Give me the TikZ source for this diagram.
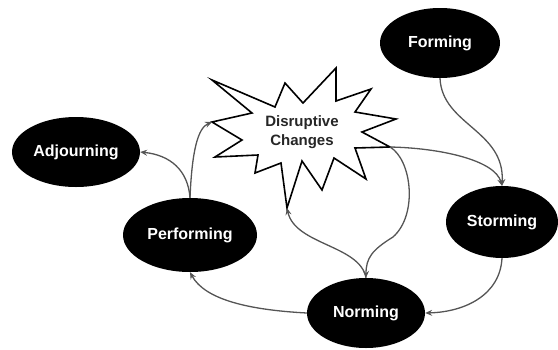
\documentclass[tikz,border=0pt]{standalone}
\usepackage{fontspec}
\setmainfont{Liberation Sans}
\usetikzlibrary{shapes.geometric,arrows.meta}
\definecolor{linegray}{HTML}{555555}
\begin{document}
\begin{tikzpicture}[x=1pt,y=-1pt,
  stage/.style={ellipse, fill=black, inner sep=0pt, text=white,
    font=\bfseries\fontsize{16}{19}\selectfont},
  conn/.style={draw=linegray, line width=1.3pt,
    -{Stealth[length=7pt,width=6pt,inset=2.5pt]}},
  burst/.style={draw=black, fill=white, line width=1.6pt, line join=miter}
]
\useasboundingbox (0,0) rectangle (558,349);
% stages
\node[stage, minimum width=120pt, minimum height=70pt] (forming) at (440,43) {Forming};
\node[stage, minimum width=112pt, minimum height=72pt] (storming) at (502,222) {Storming};
\node[stage, minimum width=118pt, minimum height=70pt] (norming) at (366,313) {Norming};
\node[stage, minimum width=134pt, minimum height=74pt] (performing) at (190,235) {Performing};
\node[stage, minimum width=128pt, minimum height=70pt] (adjourning) at (76,152) {Adjourning};
% burst
\draw[burst] (212,80) -- (275,107) -- (285,83) -- (303,103) -- (336,68) -- (336,101)
  -- (371,89) -- (355,112) -- (396,119) -- (362,132) -- (390,147) -- (355,148)
  -- (366,179) -- (334,158) -- (322,190) -- (302,161) -- (287,208) -- (281,163)
  -- (255,173) -- (258,155) -- (215,157) -- (242,140) -- (212,122) -- (252,113) -- cycle;
\coordinate (starR) at (390,147);
\coordinate (starB) at (287,208);
\coordinate (starL) at (212,122);
\node[font=\bfseries\fontsize{15}{19}\selectfont, text=black!85, align=center]
  (disrupt) at (302,132) {Disruptive\\Changes};
% connectors
\draw[conn] (forming.south) .. controls (442,125) and (505,130) .. (storming.north);
\draw[conn] (starR) .. controls (440,148) and (495,160) .. (storming.north);
\draw[conn] (starR) .. controls (412,160) and (418,215) .. (393,237)
  .. controls (372,250) and (366,258) .. (norming.north);
\draw[conn] (norming.north) .. controls (360,245) and (295,245) .. (starB);
\draw[conn] (storming.south) .. controls (500,295) and (465,312) .. (norming.east);
\draw[conn] (norming.west) .. controls (250,310) and (205,300) .. (performing.south);
\draw[conn] (performing.north) .. controls (188,170) and (170,155) .. (adjourning.east);
\draw[conn] (performing.north) .. controls (192,150) and (198,128) .. (starL);
\end{tikzpicture}
\end{document}
